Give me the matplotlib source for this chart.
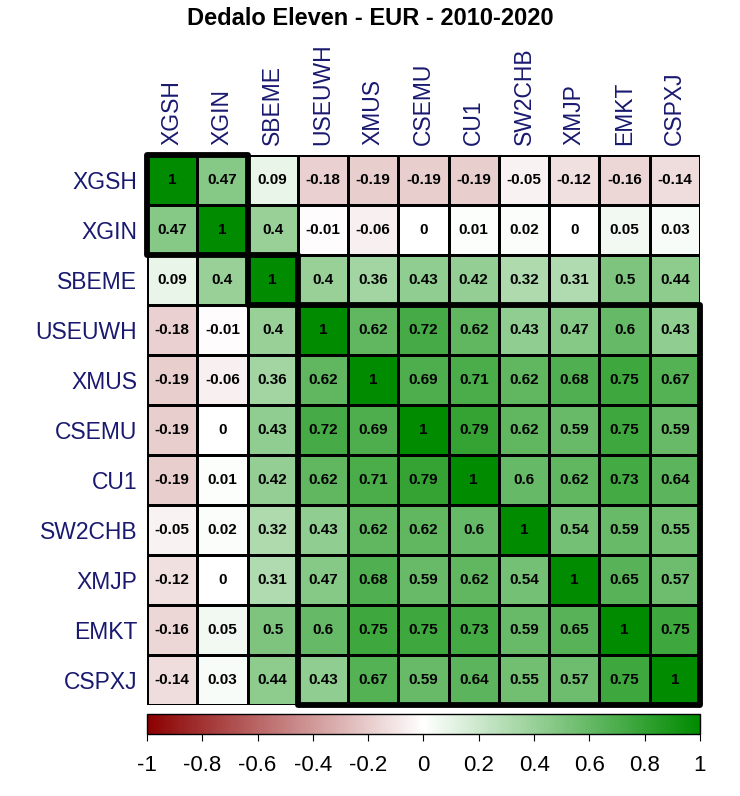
import numpy as np
import matplotlib
matplotlib.use("Agg")
import matplotlib.pyplot as plt
from matplotlib.colors import LinearSegmentedColormap
from matplotlib.patches import Rectangle

plt.rcParams['font.family'] = ['Liberation Sans', 'DejaVu Sans']

# etichette e correlazioni
labels = ["XGSH", "XGIN", "SBEME", "USEUWH", "XMUS", "CSEMU", "CU1",
          "SW2CHB", "XMJP", "EMKT", "CSPXJ"]

corr = [
    [1, 0.47, 0.09, -0.18, -0.19, -0.19, -0.19, -0.05, -0.12, -0.16, -0.14],
    [0.47, 1, 0.4, -0.01, -0.06, 0, 0.01, 0.02, 0, 0.05, 0.03],
    [0.09, 0.4, 1, 0.4, 0.36, 0.43, 0.42, 0.32, 0.31, 0.5, 0.44],
    [-0.18, -0.01, 0.4, 1, 0.62, 0.72, 0.62, 0.43, 0.47, 0.6, 0.43],
    [-0.19, -0.06, 0.36, 0.62, 1, 0.69, 0.71, 0.62, 0.68, 0.75, 0.67],
    [-0.19, 0, 0.43, 0.72, 0.69, 1, 0.79, 0.62, 0.59, 0.75, 0.59],
    [-0.19, 0.01, 0.42, 0.62, 0.71, 0.79, 1, 0.6, 0.62, 0.73, 0.64],
    [-0.05, 0.02, 0.32, 0.43, 0.62, 0.62, 0.6, 1, 0.54, 0.59, 0.55],
    [-0.12, 0, 0.31, 0.47, 0.68, 0.59, 0.62, 0.54, 1, 0.65, 0.57],
    [-0.16, 0.05, 0.5, 0.6, 0.75, 0.75, 0.73, 0.59, 0.65, 1, 0.75],
    [-0.14, 0.03, 0.44, 0.43, 0.67, 0.59, 0.64, 0.55, 0.57, 0.75, 1],
]

# cluster (indice inizio, dimensione)
clusters = [(0, 2), (2, 1), (3, 8)]

cbar_ticks = [-1, -0.8, -0.6, -0.4, -0.2, 0, 0.2, 0.4, 0.6, 0.8, 1]

m = np.array(corr)
n = len(labels)
cmap = LinearSegmentedColormap.from_list("rwg", ["#8B0000", "#FFFFFF", "#008B00"])

fig = plt.figure(figsize=(7.4, 7.96), dpi=100)
ax = fig.add_axes([0.1986, 0.1143, 0.7473, 0.691])
mesh = ax.pcolormesh(m, cmap=cmap, vmin=-1, vmax=1, edgecolors="black", linewidth=1)
ax.set_xlim(0, n)
ax.set_ylim(n, 0)

for i in range(n):
    for j in range(n):
        ax.text(j + 0.5, i + 0.5, f"{m[i, j]:g}", ha="center", va="center",
                fontsize=11, fontweight="bold", color="black")

for start, size in clusters:
    ax.add_patch(Rectangle((start, start), size, size, fill=False,
                           edgecolor="black", linewidth=4.2, clip_on=False,
                           joinstyle="round"))

ax.set_xticks(np.arange(n) + 0.5)
ax.set_yticks(np.arange(n) + 0.5)
ax.xaxis.tick_top()
ax.set_xticklabels(labels, rotation=90, fontsize=16.5, color="#191970")
ax.set_yticklabels(labels, fontsize=16.5, color="#191970")
ax.tick_params(length=0, pad=7)
for s in ax.spines.values():
    s.set_visible(False)

fig.text(0.5, 0.977, "Dedalo Eleven - EUR - 2010-2020", ha="center", va="center",
         fontsize=17, fontweight="bold")

cax = fig.add_axes([0.1986, 0.0779, 0.7473, 0.0251])
cb = fig.colorbar(mesh, cax=cax, orientation="horizontal")
cb.set_ticks(cbar_ticks)
cb.set_ticklabels([f"{t:g}" for t in cbar_ticks])
cb.ax.tick_params(labelsize=16, length=5, direction="out", pad=10)
cb.outline.set_linewidth(1)

fig.savefig("out.png", dpi=100)
